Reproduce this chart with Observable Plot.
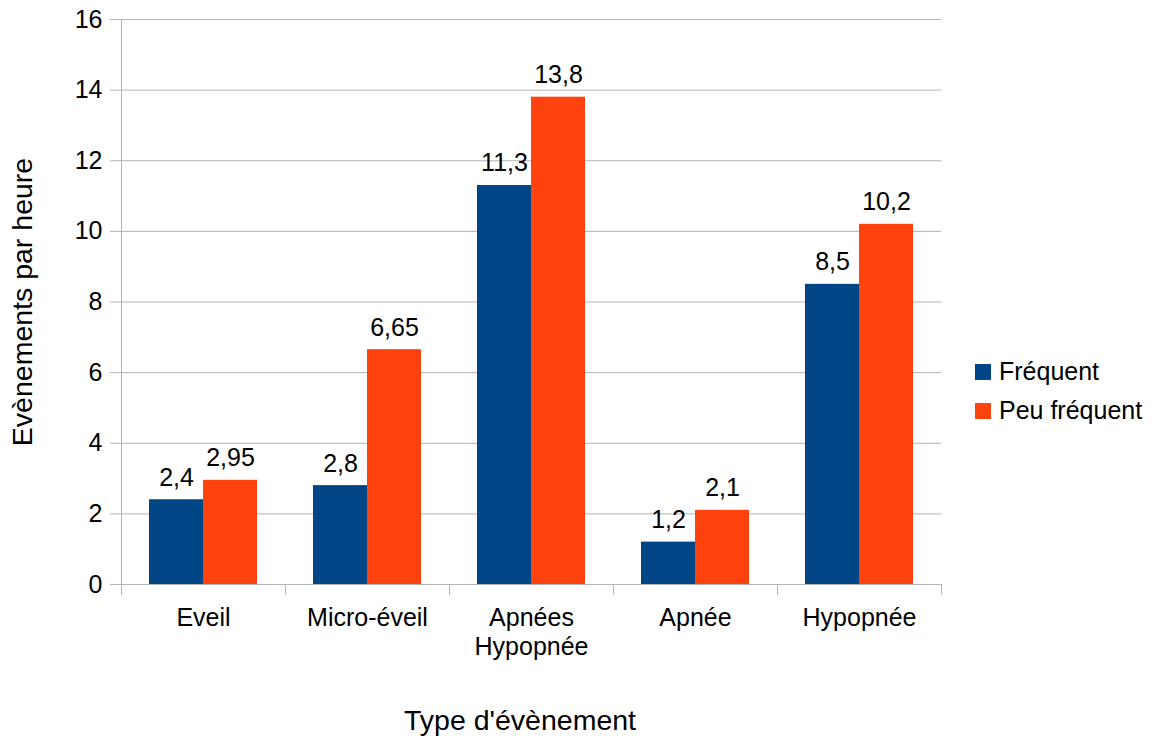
<!DOCTYPE html>
<html><head><meta charset="utf-8">
<script src="https://cdn.jsdelivr.net/npm/d3@7"></script>
<script src="https://cdn.jsdelivr.net/npm/@observablehq/plot@0.6"></script>
<style>
body{margin:0;background:#fff;font-family:"Liberation Sans",Arial,sans-serif;color:#000}
#wrap{position:relative;width:1155px;height:736px;overflow:hidden}
#wrap svg{position:absolute;left:0;top:0}
.title{position:absolute;font-size:28.5px;white-space:nowrap}
#xtitle{left:520px;top:720px;transform:translate(-50%,-50%)}
#ytitle{left:22px;top:302px;transform:translate(-50%,-50%) rotate(-90deg)}
#legend{position:absolute;left:975px;top:352px;font-size:25px}
.item{display:flex;align-items:center;height:39px}
.sw{width:16px;height:16px;margin-right:8px}
</style></head><body>
<div id="wrap"></div>
<script>
const categories = ["Eveil", "Micro-éveil", "Apnées Hypopnée", "Apnée", "Hypopnée"];
const series = ["Fréquent", "Peu fréquent"];
const frequent = [2.4, 2.8, 11.3, 1.2, 8.5];
const rare = [2.95, 6.65, 13.8, 2.1, 10.2];
const yTicks = [0, 2, 4, 6, 8, 10, 12, 14, 16];
const colors = ["#004586", "#ff420e"];
const xTitle = "Type d'évènement";
const yTitle = "Evènements par heure";

const data = categories.flatMap((c, i) => [
  {cat: c, series: series[0], value: frequent[i]},
  {cat: c, series: series[1], value: rare[i]}
]);
const fmt = v => String(v).replace(".", ",");

const mTop = 19, mBottom = 152, H = 736;
const plotH = H - mTop - mBottom;

const chart = Plot.plot({
  width: 1155, height: H,
  marginLeft: 119, marginRight: 213, marginTop: mTop, marginBottom: mBottom,
  style: {fontFamily: "'Liberation Sans', Arial, sans-serif", fontSize: "25px", color: "#000", background: "transparent", overflow: "visible"},
  fx: {domain: categories, padding: 0, label: null},
  x: {domain: series, paddingInner: 0, paddingOuter: 0.5, axis: null},
  y: {domain: [0, 16], label: null},
  color: {domain: series, range: colors},
  marks: [
    Plot.gridY(yTicks, {stroke: "#b3b3b3", strokeOpacity: 1}),
    Plot.frame({anchor: "left", facetAnchor: "left", stroke: "#b3b3b3", strokeOpacity: 1, insetBottom: -10}),
    Plot.frame({anchor: "left", stroke: "#b3b3b3", strokeOpacity: 1, insetTop: plotH, insetBottom: -10}),
    Plot.frame({anchor: "right", facetAnchor: "right", stroke: "#b3b3b3", strokeOpacity: 1, insetTop: plotH, insetBottom: -10}),
    Plot.axisY(yTicks, {tickSize: 11, tickPadding: 8, stroke: "#b3b3b3", strokeOpacity: 1, fill: "#000", fontSize: 25, label: null, tickFormat: d => String(d)}),
    Plot.axisFx({anchor: "bottom", tickSize: 0, tickPadding: 21, fontSize: 25, lineHeight: 1.15, fill: "#000", label: null, tickFormat: d => d.replace(" ", "\n")}),
    Plot.barY(data, {fx: "cat", x: "series", y: "value", fill: "series"}),
    Plot.text(data, {fx: "cat", x: "series", y: "value", text: d => fmt(d.value), lineAnchor: "bottom", dy: -14, fontSize: 25, fill: "#000"})
  ]
});

const wrap = document.getElementById("wrap");
wrap.appendChild(chart);
const xt = document.createElement("div"); xt.className = "title"; xt.id = "xtitle"; xt.textContent = xTitle; wrap.appendChild(xt);
const yt = document.createElement("div"); yt.className = "title"; yt.id = "ytitle"; yt.textContent = yTitle; wrap.appendChild(yt);
const lg = document.createElement("div"); lg.id = "legend";
series.forEach((s, i) => {
  const it = document.createElement("div"); it.className = "item";
  const sw = document.createElement("div"); sw.className = "sw"; sw.style.background = colors[i];
  const tx = document.createElement("span"); tx.textContent = s;
  it.appendChild(sw); it.appendChild(tx); lg.appendChild(it);
});
wrap.appendChild(lg);
</script>
</body></html>
